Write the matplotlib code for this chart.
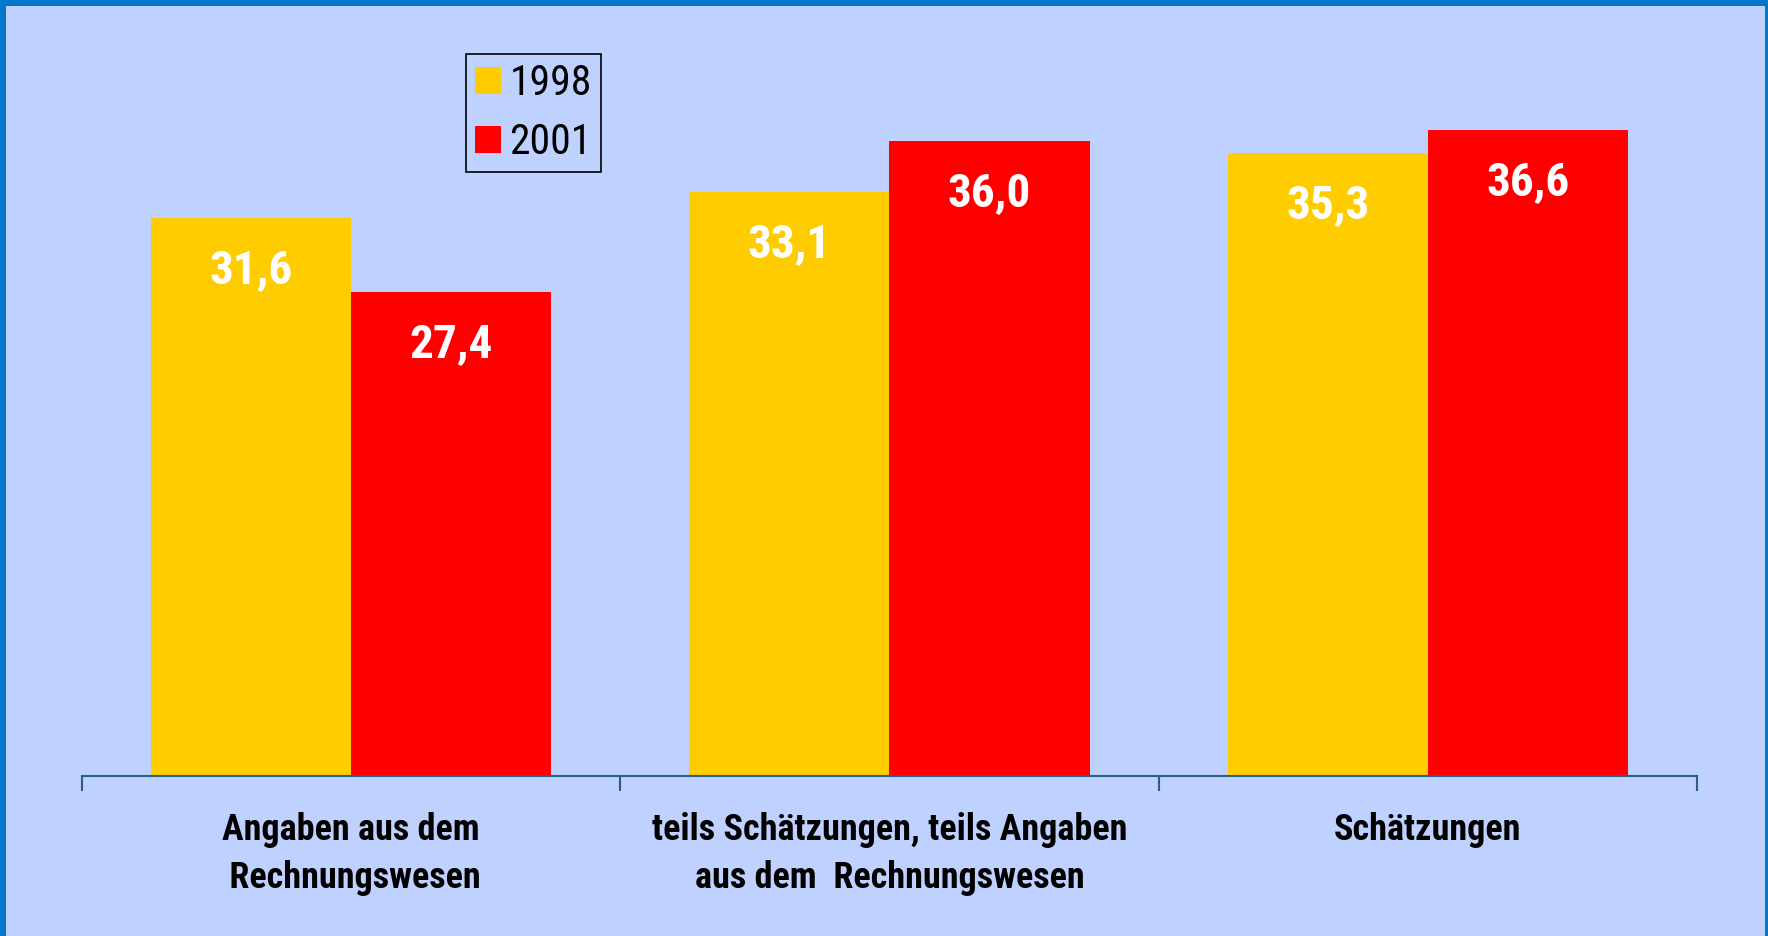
import matplotlib
matplotlib.use("Agg")
import matplotlib.pyplot as plt
from matplotlib import font_manager
from matplotlib.font_manager import FontProperties
from matplotlib.patches import Patch, Rectangle

# ---- data ----
categories = ["Angaben aus dem\n Rechnungswesen",
              "teils Schätzungen, teils Angaben\naus dem  Rechnungswesen",
              "Schätzungen"]
series_names = ["1998", "2001"]
values_1998 = [31.6, 33.1, 35.3]
values_2001 = [27.4, 36.0, 36.6]

# ---- style ----
BG = "#BFD1FE"
BORDER = "#0077C8"
YELLOW = "#FFCC00"
RED = "#FF0000"
AXIS = "#2A5C8C"


def find_condensed(bold):
    prefs = ["liberation sans narrow", "arial narrow", "roboto condensed",
             "dejavu sans condensed", "dejavusanscondensed", "noto sans condensed",
             "notosans-condensed", "open sans condensed", "opensans-condensed",
             "condensed", "narrow"]
    best = None
    for f in font_manager.fontManager.ttflist:
        key = (f.name + " " + f.fname).lower()
        if "narrow" not in key and "condensed" not in key:
            continue
        if "semicondensed" in key or "semi condensed" in key or "extracondensed" in key \
                or "extra condensed" in key or "italic" in key or "oblique" in key:
            continue
        w = f.weight if isinstance(f.weight, int) else (700 if "bold" in str(f.weight) else 400)
        isbold = w >= 600 or "bold" in key
        if isbold != bold:
            continue
        if bold and ("black" in key or "extrabold" in key or "semibold" in key):
            continue
        if (not bold) and ("light" in key or "thin" in key or "medium" in key):
            continue
        rank = next((i for i, p in enumerate(prefs) if p in key), len(prefs))
        if best is None or rank < best[0]:
            best = (rank, f.fname)
    return best[1] if best else None


bold_file = find_condensed(True)
reg_file = find_condensed(False)
if bold_file:
    def fp_bold(size):
        return FontProperties(fname=bold_file, size=size)
    val_size, cat_size = 34, 26
else:
    def fp_bold(size):
        return FontProperties(family="Liberation Sans", weight="bold", size=size)
    val_size, cat_size = 29, 22
if reg_file:
    leg_fp = FontProperties(fname=reg_file, size=30)
else:
    leg_fp = FontProperties(family="Liberation Sans", size=26)

W, H = 1768, 936
fig = plt.figure(figsize=(W / 100, H / 100), dpi=100)
fig.patch.set_facecolor(BORDER)
fig.add_artist(Rectangle((6 / W, 0), (1765 - 6) / W, (H - 6) / H,
                         transform=fig.transFigure, facecolor=BG,
                         edgecolor="none", zorder=-1))

ax = fig.add_axes([82 / W, 160 / H, 1615 / W, 706 / H])
ax.set_facecolor("none")

bw = 0.372
x = list(range(len(categories)))
b1 = ax.bar([i - bw / 2 for i in x], values_1998, width=bw, color=YELLOW, linewidth=0)
b2 = ax.bar([i + bw / 2 for i in x], values_2001, width=bw, color=RED, linewidth=0)

ax.set_xlim(-0.5, 2.5)
ax.set_ylim(0, 40)

for bars, vals in ((b1, values_1998), (b2, values_2001)):
    for rect, v in zip(bars, vals):
        ax.annotate(f"{v:.1f}".replace(".", ","),
                    xy=(rect.get_x() + rect.get_width() / 2, v),
                    xytext=(0, -65 * 0.72), textcoords="offset points",
                    ha="center", va="baseline", color="white",
                    fontproperties=fp_bold(val_size))

for i, lab in enumerate(categories):
    ax.annotate(lab, xy=(i, 0), xytext=(0, -36 * 0.72), textcoords="offset points",
                ha="center", va="top", multialignment="center",
                fontproperties=fp_bold(cat_size), color="black", linespacing=1.42,
                annotation_clip=False)

for s in ("top", "left", "right"):
    ax.spines[s].set_visible(False)
ax.spines["bottom"].set_color(AXIS)
ax.spines["bottom"].set_linewidth(1.5)
ax.set_yticks([])
ax.set_xticks([-0.5, 0.5, 1.5, 2.5])
ax.set_xticklabels([])
ax.tick_params(axis="x", direction="out", length=15 * 0.72, width=1.5, color=AXIS)

handles = [Patch(facecolor=YELLOW, edgecolor="none", label=series_names[0]),
           Patch(facecolor=RED, edgecolor="none", label=series_names[1])]
leg = fig.legend(handles=handles, loc="upper left",
                 bbox_to_anchor=(466 / W, 1 - 54 / H),
                 frameon=True, fancybox=False, edgecolor="black", facecolor=BG,
                 framealpha=1, prop=leg_fp, handlelength=0.62, handleheight=0.62,
                 handletextpad=0.2, borderpad=0.22, labelspacing=0.42, borderaxespad=0)
leg.get_frame().set_linewidth(1.2)

fig.savefig("out.png", dpi=100, facecolor=fig.get_facecolor())
